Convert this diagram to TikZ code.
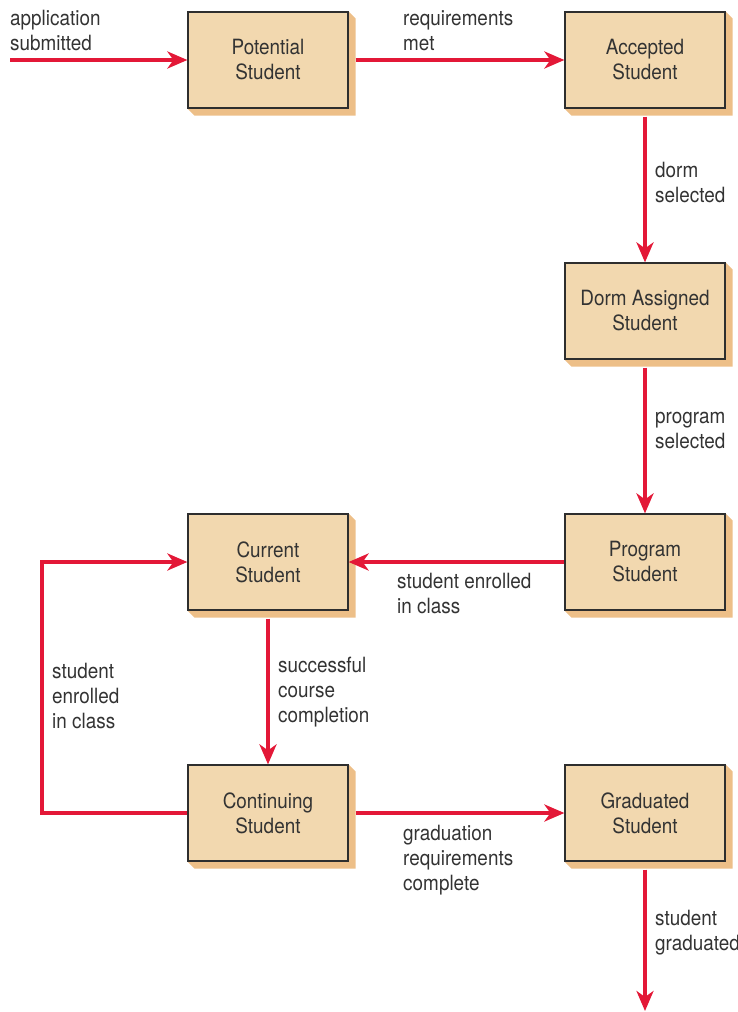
\documentclass[tikz,border=0pt]{standalone}
\usepackage{fontspec}
\setmainfont{TeX Gyre Heros}[FakeStretch=0.9]
\usetikzlibrary{arrows.meta,backgrounds}
\definecolor{arr}{HTML}{E31837}
\definecolor{boxfill}{HTML}{F2D8AF}
\definecolor{shadowcol}{HTML}{EDBF88}
\definecolor{txt}{HTML}{333333}
\tikzset{
  state/.style={draw=txt!90!black, line width=1.2pt, fill=boxfill, minimum width=160pt, minimum height=96pt, inner sep=0pt, align=center, font=\fontsize{21}{25}\selectfont, text=txt},
  flow/.style={draw=arr, line width=3.6pt, -{Stealth[length=20pt,width=17pt,inset=6pt]}},
  lbl/.style={align=left, font=\fontsize{21}{25}\selectfont, text=txt, inner sep=0pt},
}
\newcommand{\shadowbox}[1]{%
  \fill[shadowcol] (#1.north east) -- ++(7pt,-7pt) -- ([xshift=7pt,yshift=-7pt]#1.south east) -- ([xshift=7pt,yshift=-7pt]#1.south west) -- (#1.south west) -- cycle;}
\begin{document}
\begin{tikzpicture}[x=1pt,y=-1pt]
\useasboundingbox (0,0) rectangle (738,1012);
\node[state] (pot) at (268,60) {Potential\\Student};
\node[state] (acc) at (645,60) {Accepted\\Student};
\node[state] (dorm) at (645,311) {Dorm Assigned\\Student};
\node[state] (prog) at (645,562) {Program\\Student};
\node[state] (cur) at (268,562) {Current\\Student};
\node[state] (cont) at (268,813) {Continuing\\Student};
\node[state] (grad) at (645,813) {Graduated\\Student};
\begin{pgfonlayer}{background}
\foreach \n in {pot,acc,dorm,prog,cur,cont,grad}{\shadowbox{\n}}
\end{pgfonlayer}

\coordinate (start) at (10,60);
\coordinate (endp) at (645,1011);
\coordinate (lt) at (42,562);
\coordinate (lb) at (42,813);

\draw[flow] (start) -- (pot.west);
\draw[flow] ([xshift=7pt]pot.east) -- (acc.west);
\draw[flow] ([yshift=-8pt]acc.south) -- (dorm.north);
\draw[flow] ([yshift=-8pt]dorm.south) -- (prog.north);
\draw[flow] (prog.west) -- (cur.east);
\draw[flow] ([yshift=-8pt]cur.south) -- (cont.north);
\draw[flow] (cont.west) -- (lb) -- (lt) -- (cur.west);
\draw[flow] ([xshift=7pt]cont.east) -- (grad.west);
\draw[flow] ([yshift=-8pt]grad.south) -- (endp);

\node[lbl, anchor=north west] (l1) at (10,10) {application\\submitted};
\node[lbl, anchor=north west] (l2) at (403,10) {requirements\\met};
\node[lbl, anchor=north west] (l3) at (655,162) {dorm\\selected};
\node[lbl, anchor=north west] (l4) at (655,412) {program\\selected};
\node[lbl, anchor=north west] (l5) at (397,573) {student enrolled\\in class};
\node[lbl, anchor=north west] (l6) at (278,657) {successful\\course\\completion};
\node[lbl, anchor=north west] (l7) at (52,663) {student\\enrolled\\in class};
\node[lbl, anchor=north west] (l8) at (403,825) {graduation\\requirements\\complete};
\node[lbl, anchor=north west] (l9) at (655,910) {student\\graduated};
\end{tikzpicture}
\end{document}
